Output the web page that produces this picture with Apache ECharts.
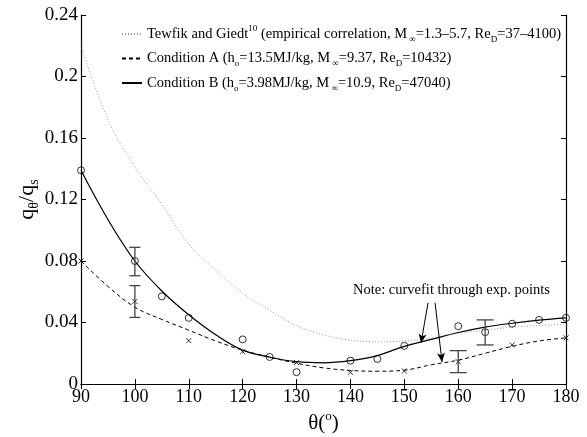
<!DOCTYPE html>
<html>
<head>
<meta charset="utf-8">
<script src="https://cdn.jsdelivr.net/npm/echarts@6/dist/echarts.min.js"></script>
<style>
html, body { margin: 0; padding: 0; background: #fff; }
#main { width: 587px; height: 437px; }
</style>
</head>
<body>
<div id="main"></div>
<script>
// fitted curves, read every 5 deg
var fitTheta = [90, 95, 100, 105, 110, 115, 120, 125, 130, 135, 140, 145, 150, 155, 160, 165, 170, 175, 180];
var fitTewfik = [0.220, 0.172, 0.141, 0.117, 0.091, 0.074, 0.059, 0.048, 0.038, 0.032, 0.0285, 0.0275, 0.028, 0.030, 0.033, 0.035, 0.037, 0.038, 0.039];
var fitA = [0.080, 0.0635, 0.050, 0.042, 0.035, 0.028, 0.022, 0.0175, 0.0135, 0.0105, 0.0088, 0.0083, 0.009, 0.0125, 0.0155, 0.020, 0.0245, 0.028, 0.030];
var fitB = [0.139, 0.107, 0.080, 0.0605, 0.045, 0.032, 0.022, 0.0175, 0.0145, 0.0138, 0.0152, 0.0185, 0.0245, 0.029, 0.0335, 0.037, 0.0395, 0.0415, 0.043];

// experimental points
var thetaA = [90, 100, 110, 120, 130, 140, 150, 160, 170, 180];
var qA = [0.080, 0.0537, 0.0282, 0.021, 0.0139, 0.0076, 0.0085, 0.0145, 0.0254, 0.030];
var thetaB = [90, 100, 105, 110, 120, 125, 130, 140, 145, 150, 160, 165, 170, 175, 180];
var qB = [0.139, 0.080, 0.057, 0.043, 0.029, 0.0176, 0.0077, 0.0152, 0.0163, 0.0248, 0.0376, 0.0337, 0.0392, 0.0417, 0.043];

// error bars: theta, low, high
var errTheta = [100, 100, 160, 165];
var errLow = [0.0704, 0.0433, 0.0074, 0.0254];
var errHigh = [0.0889, 0.064, 0.0217, 0.0417];

// arrows of the note (from, to)
var arrowFrom = [[154.4, 0.0528], [155.7, 0.0528]];
var arrowTo = [[153.1, 0.0267], [157.0, 0.0143]];

var xTicks = [90, 180, 10];
var yTicks = [0, 0.24, 0.04];

var FONT = 'Liberation Serif';

function zip(a, b) {
    var out = [];
    for (var i = 0; i < a.length; i++) out.push([a[i], b[i]]);
    return out;
}

var errData = [];
for (var i = 0; i < errTheta.length; i++) {
    errData.push([errTheta[i], errLow[i], errHigh[i]]);
}

var legendText = {
    tewfik: 'Tewfik and Giedt{sup|10} (empirical correlation, M{sub| \u221e}=1.3\u20135.7, Re{sub|D}=37\u20134100)',
    condA: 'Condition A (h{sub|o}=13.5MJ/kg, M{sub| \u221e}=9.37, Re{sub|D}=10432)',
    condB: 'Condition B (h{sub|o}=3.98MJ/kg, M{sub| \u221e}=10.9, Re{sub|D}=47040)'
};

var arrowLines = [];
for (var k = 0; k < arrowFrom.length; k++) {
    arrowLines.push([{ coord: arrowFrom[k] }, { coord: arrowTo[k] }]);
}

function renderErr(params, api) {
    var x = api.value(0);
    var lo = api.coord([x, api.value(1)]);
    var hi = api.coord([x, api.value(2)]);
    var half = x < 130 ? 5.5 : 8.5;
    var st = { stroke: '#444', lineWidth: 1.3 };
    return {
        type: 'group',
        children: [
            { type: 'line', shape: { x1: lo[0], y1: lo[1], x2: hi[0], y2: hi[1] }, style: st },
            { type: 'line', shape: { x1: lo[0] - half, y1: lo[1], x2: lo[0] + half, y2: lo[1] }, style: st },
            { type: 'line', shape: { x1: hi[0] - half, y1: hi[1], x2: hi[0] + half, y2: hi[1] }, style: st }
        ]
    };
}

var myChart = echarts.init(document.getElementById('main'));

var axisCommon = {
    axisLine: { lineStyle: { color: '#000', width: 1.2 } },
    axisTick: { inside: true, length: 5, lineStyle: { color: '#000' } },
    splitLine: { show: false }
};

myChart.setOption({
    animation: false,
    backgroundColor: '#fff',
    grid: { left: 81, right: 21, top: 15, bottom: 53, containLabel: false, outerBoundsMode: 'none' },
    legend: {
        orient: 'vertical',
        left: 116,
        top: 19,
        itemGap: 4.5,
        itemWidth: 20,
        itemHeight: 10,
        itemStyle: { opacity: 0 },
        data: ['tewfik', 'condA', 'condB'],
        formatter: function (name) { return legendText[name]; },
        textStyle: {
            fontFamily: FONT,
            fontSize: 14.5,
            color: '#000',
            lineHeight: 20,
            rich: {
                sub: { fontFamily: FONT, fontSize: 9, lineHeight: 8, verticalAlign: 'bottom', color: '#000' },
                sup: { fontFamily: FONT, fontSize: 9, lineHeight: 8, verticalAlign: 'top', color: '#000' }
            }
        }
    },
    xAxis: [
        Object.assign({
            type: 'value', min: xTicks[0], max: xTicks[1], interval: xTicks[2],
            name: '\u03b8({sup|o})',
            nameLocation: 'middle',
            nameGap: 26,
            nameMoveOverlap: false,
            nameTextStyle: {
                fontFamily: FONT, fontSize: 21, color: '#000', lineHeight: 26,
                rich: { sup: { fontFamily: FONT, fontSize: 13, lineHeight: 13, verticalAlign: 'top', color: '#000' } }
            },
            axisLabel: { fontFamily: FONT, fontSize: 18, color: '#000', margin: 4 }
        }, axisCommon),
        Object.assign({
            type: 'value', min: xTicks[0], max: xTicks[1], interval: xTicks[2],
            position: 'top', axisLabel: { show: false }
        }, axisCommon)
    ],
    yAxis: [
        Object.assign({
            type: 'value', min: yTicks[0], max: yTicks[1], interval: yTicks[2],
            name: 'q{sub|\u03b8}/q{sub|s}',
            nameLocation: 'middle',
            nameRotate: 90,
            nameGap: 40,
            nameMoveOverlap: false,
            nameTextStyle: {
                fontFamily: FONT, fontSize: 22, color: '#000', lineHeight: 28,
                rich: { sub: { fontFamily: FONT, fontSize: 14, lineHeight: 14, verticalAlign: 'bottom', color: '#000' } }
            },
            axisLabel: { fontFamily: FONT, fontSize: 19, color: '#000', margin: 3 }
        }, axisCommon),
        Object.assign({
            type: 'value', min: yTicks[0], max: yTicks[1], interval: yTicks[2],
            position: 'right', axisLabel: { show: false }
        }, axisCommon)
    ],
    graphic: [{
        type: 'text',
        left: 353,
        top: 283,
        style: {
            text: 'Note: curvefit through exp. points',
            fontFamily: FONT,
            fontSize: 14.5,
            fill: '#000'
        }
    }],
    series: [
        {
            name: 'tewfik',
            type: 'line',
            data: zip(fitTheta, fitTewfik),
            smooth: 0.4,
            symbol: 'none',
            lineStyle: { color: '#999', width: 1, type: [1, 2] },
            itemStyle: { color: '#999' },
            z: 2
        },
        {
            name: 'condA',
            type: 'line',
            data: zip(fitTheta, fitA),
            smooth: 0.4,
            symbol: 'none',
            lineStyle: { color: '#000', width: 1, type: [4, 3] },
            itemStyle: { color: '#000' },
            z: 3
        },
        {
            name: 'condB',
            type: 'line',
            data: zip(fitTheta, fitB),
            smooth: 0.4,
            symbol: 'none',
            lineStyle: { color: '#000', width: 1.2, type: 'solid' },
            itemStyle: { color: '#000' },
            z: 3,
            markLine: {
                silent: true,
                symbol: ['none', 'arrow'],
                symbolSize: [6, 9],
                label: { show: false },
                lineStyle: { color: '#000', width: 1, type: 'solid' },
                data: arrowLines
            }
        },
        {
            name: 'expA',
            type: 'scatter',
            data: zip(thetaA, qA),
            symbol: 'path://M0,0L10,10M10,0L0,10',
            symbolSize: 5,
            itemStyle: { color: 'none', borderColor: '#000', borderWidth: 1 },
            z: 4
        },
        {
            name: 'expB',
            type: 'scatter',
            data: zip(thetaB, qB),
            symbol: 'circle',
            symbolSize: 7,
            itemStyle: { color: 'none', borderColor: '#000', borderWidth: 1 },
            z: 4
        },
        {
            name: 'err',
            type: 'custom',
            renderItem: renderErr,
            encode: { x: 0, y: [1, 2] },
            data: errData,
            z: 5
        }
    ]
});
</script>
</body>
</html>
